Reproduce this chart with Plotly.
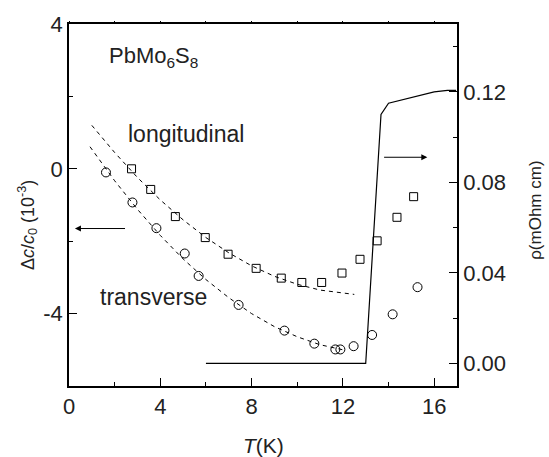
import plotly.graph_objects as go

# longitudinal data (squares)
long_T = [2.74, 3.58, 4.66, 5.97, 6.97, 8.2, 9.3, 10.2, 11.07, 11.96, 12.75, 13.5, 14.37, 15.1]
long_dc = [0.0, -0.57, -1.32, -1.90, -2.36, -2.75, -3.02, -3.14, -3.14, -2.88, -2.50, -1.99, -1.34, -0.77]

# transverse data (circles)
trans_T = [1.62, 2.78, 3.83, 5.07, 5.68, 7.43, 9.44, 10.75, 11.67, 11.89, 12.47, 13.28, 14.18, 15.27]
trans_dc = [-0.10, -0.93, -1.64, -2.34, -2.96, -3.76, -4.47, -4.83, -4.99, -4.99, -4.90, -4.59, -4.02, -3.27]

# dashed guide curves
long_fit_T = [1, 2, 3, 4, 5, 6, 7, 8, 9, 10, 11, 12, 12.5]
long_fit_dc = [1.20, 0.45, -0.24, -0.86, -1.41, -1.90, -2.32, -2.68, -2.97, -3.19, -3.35, -3.44, -3.47]
trans_fit_T = [0.92, 2, 3, 4, 5, 6, 7, 8, 9, 10, 11, 12.07]
trans_fit_dc = [0.61, -0.33, -1.12, -1.84, -2.49, -3.06, -3.56, -4.00, -4.36, -4.64, -4.86, -5.01]

# resistivity (solid line, right axis)
rho_T = [6.0, 13.0, 13.67, 14.0, 16.0, 16.58, 16.96]
rho = [0.0, 0.0, 0.110, 0.115, 0.120, 0.1207, 0.1207]

# tick labels
x_ticks = [0, 4, 8, 12, 16]
y_ticks = [-4, 0, 4]
rho_ticks = [0, 0.04, 0.08, 0.12]

FONT = "Liberation Sans, Arial, sans-serif"
TXT = "#222"

fig = go.Figure()
fig.add_trace(go.Scatter(x=long_fit_T, y=long_fit_dc, mode="lines",
                         line=dict(color="black", width=1, dash="4px,4px"), showlegend=False))
fig.add_trace(go.Scatter(x=trans_fit_T, y=trans_fit_dc, mode="lines",
                         line=dict(color="black", width=1, dash="4px,4px"), showlegend=False))
fig.add_trace(go.Scatter(x=long_T, y=long_dc, mode="markers",
                         marker=dict(symbol="square-open", size=8, color="black", line=dict(width=1)),
                         showlegend=False))
fig.add_trace(go.Scatter(x=trans_T, y=trans_dc, mode="markers",
                         marker=dict(symbol="circle-open", size=9, color="black", line=dict(width=1)),
                         showlegend=False))
fig.add_trace(go.Scatter(x=rho_T, y=rho, mode="lines", yaxis="y2",
                         line=dict(color="black", width=1.2), showlegend=False))
# empty trace to carry the top tick axis
fig.add_trace(go.Scatter(x=[], y=[], xaxis="x2", yaxis="y", showlegend=False, hoverinfo="skip"))

axis_common = dict(showgrid=False, zeroline=False, showline=True, linecolor="black", linewidth=1.5,
                   ticks="inside", ticklen=8, tickwidth=1.2, tickcolor="black",
                   tickfont=dict(family=FONT, size=22, color=TXT))
minor_common = dict(ticks="inside", ticklen=4, tickcolor="black", tickwidth=1.2)

fig.update_layout(
    width=549, height=457,
    margin=dict(l=69, r=91.5, t=18, b=71),
    plot_bgcolor="white", paper_bgcolor="white",
    xaxis=dict(range=[0, 17], tickvals=x_ticks, mirror=True,
               minor=dict(dtick=2, tick0=0, **minor_common), **axis_common),
    xaxis2=dict(range=[0, 17], overlaying="x", side="top", showgrid=False, zeroline=False,
                showline=False, ticks="outside", ticklen=2, tickwidth=1.2, tickcolor="black",
                dtick=2, tick0=0, showticklabels=False),
    yaxis=dict(range=[-6, 4], tickvals=y_ticks, ticktext=[str(v) for v in y_ticks],
               minor=dict(dtick=2, tick0=0, **minor_common), **axis_common),
    yaxis2=dict(range=[-0.01, 0.15], overlaying="y", side="right",
                tickvals=rho_ticks, ticktext=["%.2f" % v for v in rho_ticks],
                minor=dict(dtick=0.02, tick0=0, **minor_common), **axis_common),
)

annotations = [
    # axis titles
    dict(text="Δ<i>c</i>/<i>c</i><sub>0</sub> (10<sup>-3</sup>)", xref="paper", yref="paper",
         x=-0.1055, y=0.445, textangle=-90, showarrow=False, xanchor="center", yanchor="middle",
         font=dict(family=FONT, size=18, color=TXT)),
    dict(text="ρ(mOhm cm)", xref="paper", yref="paper",
         x=1.202, y=0.485, textangle=-90, showarrow=False, xanchor="center", yanchor="middle",
         font=dict(family=FONT, size=17, color=TXT)),
    dict(text="<i>T</i>(K)", xref="paper", yref="paper",
         x=0.502, y=-0.165, showarrow=False, xanchor="center", yanchor="middle",
         font=dict(family=FONT, size=21, color=TXT)),
    # labels
    dict(text="PbMo<sub>6</sub>S<sub>8</sub>", x=1.68, y=3.1, xref="x", yref="y",
         showarrow=False, xanchor="left", yanchor="middle", font=dict(family=FONT, size=22, color=TXT)),
    dict(text="longitudinal", x=2.5, y=0.95, xref="x", yref="y",
         showarrow=False, xanchor="left", yanchor="middle", font=dict(family=FONT, size=23, color=TXT)),
    dict(text="transverse", x=1.25, y=-3.55, xref="x", yref="y",
         showarrow=False, xanchor="left", yanchor="middle", font=dict(family=FONT, size=23, color=TXT)),
    # arrows
    dict(x=0.26, y=-1.65, ax=2.52, ay=-1.65, xref="x", yref="y", axref="x", ayref="y",
         showarrow=True, arrowhead=2, arrowsize=1.2, arrowwidth=1, arrowcolor="black", text=""),
    dict(x=15.7, y=0.0911, ax=13.74, ay=0.0911, xref="x", yref="y2", axref="x", ayref="y2",
         showarrow=True, arrowhead=2, arrowsize=1.2, arrowwidth=1, arrowcolor="black", text=""),
]
fig.update_layout(annotations=annotations)

fig.write_html("out.html")
